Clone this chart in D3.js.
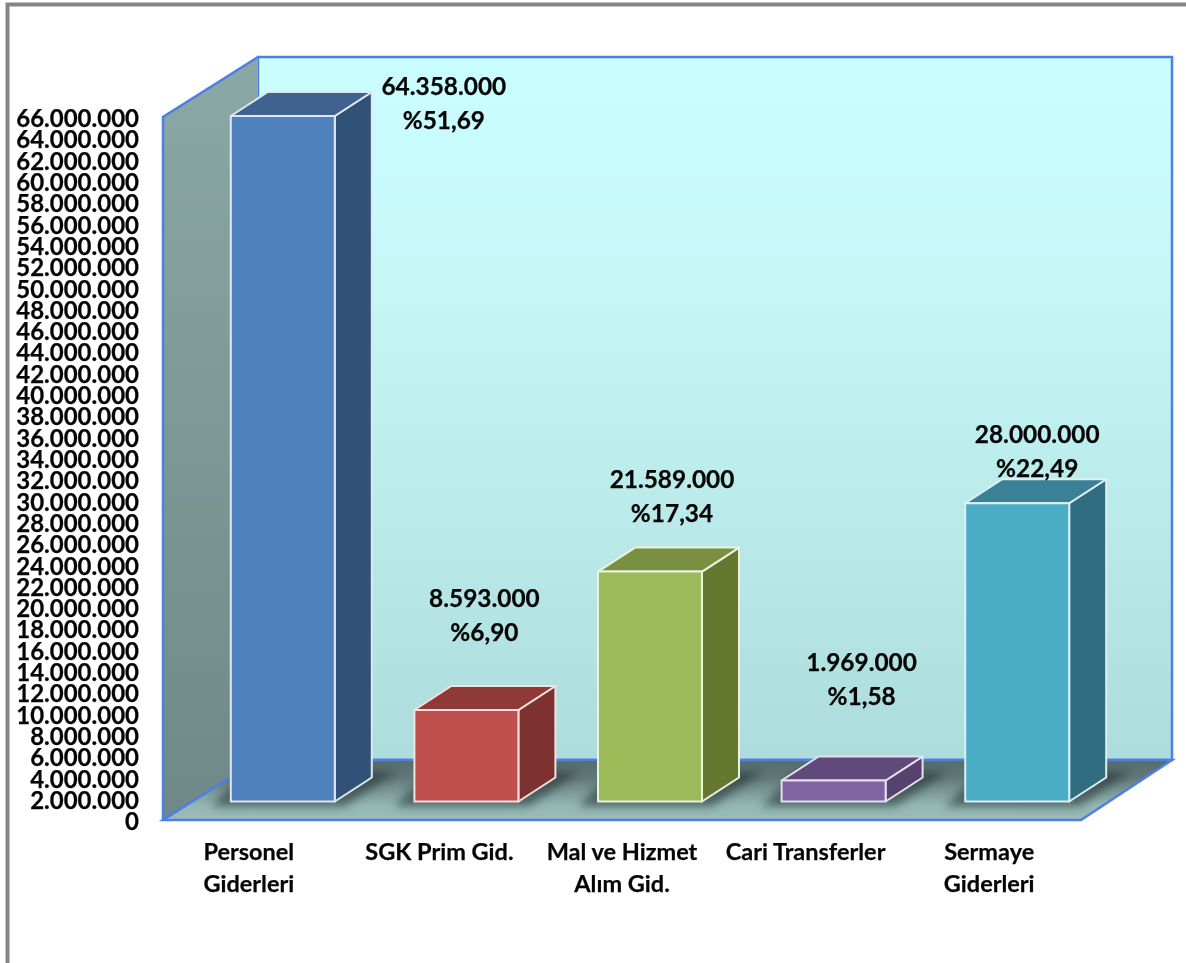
<!DOCTYPE html>
<html>
<head>
<meta charset="utf-8">
<script src="https://cdn.jsdelivr.net/npm/d3@7"></script>
<style>
    html, body { margin: 0; padding: 0; background: #fff; overflow: hidden; }
    svg { filter: blur(0.5px); }
    text { font-family: Lato, sans-serif; font-weight: 700; fill: #050505; stroke: #050505; stroke-width: 0.25px; }
</style>
</head>
<body>
<svg id="chart"></svg>
<script>
// chart values
const categories = [['Personel', 'Giderleri'], ['SGK Prim Gid.'], ['Mal ve Hizmet', 'Alım Gid.'], ['Cari Transferler'], ['Sermaye', 'Giderleri']];
const values = [64358000, 8593000, 21589000, 1969000, 28000000];
const valueLabels = ['64.358.000', '8.593.000', '21.589.000', '1.969.000', '28.000.000'];
const percentLabels = ['%51,69', '%6,90', '%17,34', '%1,58', '%22,49'];
const tickValues = d3.range(0, 66000001, 2000000);

const frontColors = ['#4f81bd', '#c0504d', '#9bbb59', '#8064a2', '#4bacc6'];
const topColors = ['#3f628f', '#8f3a38', '#78903f', '#604a7b', '#3a8198'];
const sideColors = ['#325179', '#7e3230', '#66782f', '#57426f', '#316d80'];
const rimColors = ['#dfe8f2', '#f3e0df', '#edf2dd', '#e6e0ee', '#deeff4'];
// label shift from the top of the bar, the first label sits beside the bar
const labelShiftX = [161, 18, 22, 28, 20];
const labelShiftY = [21, 103, 84, 110, 60];
const categoryShiftX = [-6, 1, 0, 0, 0];

const width = 1186, height = 963;
const plotLeft = 163, plotRight = 1081, plotBottom = 820, plotTop = 117;
const wallDx = 95, wallDy = 60;      // depth of the room
const barDx = 37, barDy = 24;        // depth of one bar
const barInsetX = 28, barInsetY = 18.5; // bars stand a little way into the floor
const barWidth = 104;

const svg = d3.select('#chart').attr('width', width).attr('height', height);
const defs = svg.append('defs');

function linear(id, stops) {
    let g = defs.append('linearGradient').attr('id', id)
        .attr('x1', 0).attr('y1', 0).attr('x2', 0).attr('y2', 1);
    stops.forEach(s => g.append('stop').attr('offset', s[0]).attr('stop-color', s[1]));
}
linear('backWall', [[0, '#cafefe'], [0.3, '#c6f8f8'], [1, '#aedcdc']]);
linear('sideWall', [[0, '#8aa8a5'], [1, '#6e8987']]);
linear('floor', [[0, '#566c6a'], [0.3, '#62797a'], [0.75, '#93b6b3'], [1, '#9abdba']]);
defs.append('filter').attr('id', 'blur').attr('x', '-20%').attr('y', '-50%').attr('width', '140%').attr('height', '200%')
    .append('feGaussianBlur').attr('stdDeviation', 4);

const floorPoints = [
    [plotLeft, plotBottom], [plotRight, plotBottom],
    [plotRight + wallDx - 4, plotBottom - wallDy], [plotLeft + wallDx, plotBottom - wallDy]
].join(' ');
defs.append('clipPath').attr('id', 'floorClip').append('polygon').attr('points', floorPoints);

// Scales
const y = d3.scaleLinear().domain([0, 66000000]).range([plotBottom, plotTop]);
const x = d3.scaleBand().domain(categories.map((c, i) => i)).range([plotLeft, plotRight]);

// Outer frame
svg.append('path')
    .attr('d', `M7.5,${height}V4.5H${width}`)
    .attr('fill', 'none').attr('stroke', '#858585').attr('stroke-width', 4);

const edge = '#4f7fe6';

// Room: back wall, side wall, floor
svg.append('rect')
    .attr('x', plotLeft + wallDx).attr('y', plotTop - wallDy)
    .attr('width', plotRight - plotLeft - 4).attr('height', plotBottom - plotTop)
    .attr('fill', 'url(#backWall)').attr('stroke', edge).attr('stroke-width', 2.5);
svg.append('polygon')
    .attr('points', [[plotLeft, plotTop], [plotLeft + wallDx, plotTop - wallDy], [plotLeft + wallDx, plotBottom - wallDy], [plotLeft, plotBottom]].join(' '))
    .attr('fill', 'url(#sideWall)');
svg.append('path')
    .attr('d', `M${plotLeft},${plotBottom}V${plotTop}L${plotLeft + wallDx},${plotTop - wallDy}`)
    .attr('fill', 'none').attr('stroke', edge).attr('stroke-width', 2.5);
svg.append('polygon')
    .attr('points', floorPoints)
    .attr('fill', 'url(#floor)').attr('stroke', edge).attr('stroke-width', 2.5);

const bars = values.map((v, i) => {
    let x0 = x(i) + (x.bandwidth() - barWidth) / 2 + barInsetX;
    let yBase = y(0) - barInsetY;
    let yTop = y(v) - barInsetY;
    return { i, v, x0, x1: x0 + barWidth, yBase, yTop };
});

// Soft shadows on the floor
svg.append('g').attr('clip-path', 'url(#floorClip)')
    .selectAll('polygon').data(bars).enter().append('polygon')
    .attr('points', d => [
        [d.x0 - 20, d.yBase + 5], [d.x1 + 10, d.yBase + 5],
        [d.x1 + barDx + 25, d.yBase - barDy - 6], [d.x0 + 15, d.yBase - barDy - 6]
    ].join(' '))
    .attr('fill', '#1d2a2a').attr('opacity', 0.55).attr('filter', 'url(#blur)');

// Bars: side, top, front
const barG = svg.append('g').selectAll('g').data(bars).enter().append('g')
    .attr('stroke', d => rimColors[d.i]).attr('stroke-width', 2).attr('stroke-linejoin', 'round');
barG.append('polygon')
    .attr('points', d => [[d.x1, d.yTop], [d.x1 + barDx, d.yTop - barDy], [d.x1 + barDx, d.yBase - barDy], [d.x1, d.yBase]].join(' '))
    .attr('fill', d => sideColors[d.i]);
barG.append('polygon')
    .attr('points', d => [[d.x0, d.yTop], [d.x0 + barDx, d.yTop - barDy], [d.x1 + barDx, d.yTop - barDy], [d.x1, d.yTop]].join(' '))
    .attr('fill', d => topColors[d.i]);
barG.append('rect')
    .attr('x', d => d.x0).attr('y', d => d.yTop)
    .attr('width', barWidth).attr('height', d => d.yBase - d.yTop)
    .attr('fill', d => frontColors[d.i]);

// Y axis
const yAxis = d3.axisLeft(y).tickValues(tickValues).tickSize(0).tickPadding(0)
    .tickFormat(d => d3.format(',')(d).replace(/,/g, '.'));
const yG = svg.append('g').attr('transform', 'translate(139,1)').call(yAxis);
yG.select('.domain').remove();
yG.selectAll('text').style('font-size', '24px').attr('dy', '0.36em');

// X axis labels
const xAxis = d3.axisBottom(x).tickSize(0).tickFormat('');
const xG = svg.append('g').attr('transform', `translate(0,${plotBottom})`).call(xAxis);
xG.select('.domain').remove();
xG.selectAll('.tick').each(function (d) {
    let t = d3.select(this).select('text').attr('y', 0).attr('dy', 0).style('font-size', '23.5px');
    categories[d].forEach((line, k) => {
        t.append('tspan').attr('x', categoryShiftX[d]).attr('y', 40 + k * 32).text(line);
    });
});

// Value and percent labels
const labelG = svg.append('g').selectAll('g').data(bars).enter().append('g')
    .attr('text-anchor', 'middle').style('font-size', '24.4px')
    .attr('transform', d => `translate(${(d.x0 + d.x1) / 2 + labelShiftX[d.i]},${d.yTop - labelShiftY[d.i]})`);
labelG.append('text').text(d => valueLabels[d.i]);
labelG.append('text').attr('y', 34).text(d => percentLabels[d.i]);
</script>
</body>
</html>
